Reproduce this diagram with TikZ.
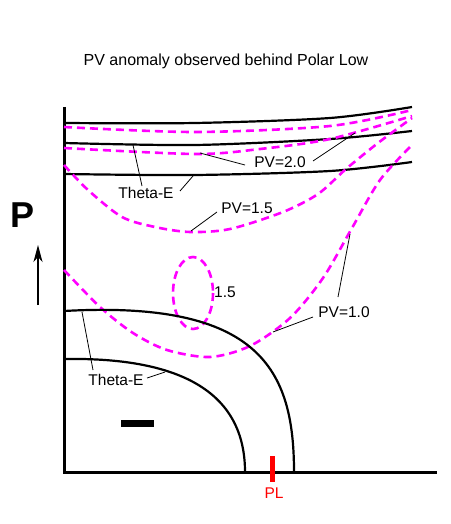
\documentclass[tikz,border=0pt]{standalone}
\usepackage{fontspec}
\setmainfont{Liberation Sans}
\usetikzlibrary{arrows.meta}
\definecolor{pvmag}{RGB}{255,0,255}
\definecolor{plred}{RGB}{255,0,0}
\tikzset{
  axisline/.style={line width=3pt, black},
  thetaline/.style={line width=2.2pt, black},
  pvline/.style={line width=2.6pt, pvmag, dash pattern=on 8pt off 5pt},
  leader/.style={line width=0.8pt, black},
  lbl/.style={font=\fontsize{15.5}{18}\selectfont, inner sep=0pt},
}
\begin{document}
\begin{tikzpicture}[x=1pt,y=-1pt]
\useasboundingbox (0,0) rectangle (450,524);
% title
\node[font=\fontsize{16}{19}\selectfont, inner sep=0pt] (title) at (226,61) {PV anomaly observed behind Polar Low};
% P and arrow
\node[font=\fontsize{36}{40}\selectfont\bfseries, inner sep=0pt] (plabel) at (23,215) {P};
\coordinate (arrbot) at (38,305);
\coordinate (arrtop) at (38,245);
\draw[line width=1.1pt, -{Stealth[length=17pt,width=9pt,inset=5pt]}] (arrbot) -- (arrtop);
% axes
\coordinate (orig) at (64,472);
\coordinate (ytop) at (64,107);
\coordinate (xend) at (437,472);
\draw[axisline] (ytop) -- (orig) -- (xend);
% upper theta-E lines
\draw[thetaline] plot[smooth] coordinates {(64,123) (195,123) (330,118) (412,107)};
\draw[thetaline] plot[smooth] coordinates {(64,143) (195,145) (330,139) (412,131)};
\draw[thetaline] plot[smooth] coordinates {(64,174) (195,175) (330,171) (412,162)};
% PV lines
\draw[pvline] plot[smooth] coordinates {(64,127) (195,132) (330,126) (412,110)};
\draw[pvline] plot[smooth] coordinates {(64,148) (195,154) (260,149) (330,139) (412,116)};
\draw[pvline] plot[smooth] coordinates {(64,165) (88,190) (122,217) (155,227) (190,232) (230,229) (283,212) (318,194) (346,169) (378,143) (412,118)};
\draw[pvline] plot[smooth] coordinates {(64,270) (100,307) (133,333) (167,350) (210,357) (250,346) (290,318) (323,278) (352,228) (380,180) (412,145)};
\draw[pvline] (193,293) ellipse[x radius=20, y radius=36];
% lower theta-E arcs
\draw[thetaline] (64,311) .. controls (260,300) and (294,370) .. (294,472);
\draw[thetaline] (64,359) .. controls (185,357) and (245,395) .. (245,472);
% black bar
\fill[black] (121,420) rectangle (154,427);
% PL tick
\coordinate (pltop) at (272,456);
\coordinate (plbot) at (272,482);
\draw[line width=5pt, plred] (pltop) -- (plbot);
\node[lbl, text=plred] (pl) at (274,493) {PL};
% labels
\node[lbl] (pv20) at (280,162) {PV=2.0};
\node[lbl] (th1) at (146,193) {Theta-E};
\node[lbl] (pv15) at (247,208) {PV=1.5};
\node[lbl] (pv10) at (344,312) {PV=1.0};
\node[lbl] (th2) at (116,380) {Theta-E};
\node[lbl] (one5) at (225,292) {1.5};
% leader lines
\coordinate (a1) at (245,165); \coordinate (a2) at (200,153);
\coordinate (b1) at (313,161); \coordinate (b2) at (355,133);
\coordinate (c1) at (142,186); \coordinate (c2) at (133,145);
\coordinate (d1) at (180,191); \coordinate (d2) at (193,176);
\coordinate (e1) at (217,212); \coordinate (e2) at (191,231);
\coordinate (f1) at (338,297); \coordinate (f2) at (350,234);
\coordinate (g1) at (313,317); \coordinate (g2) at (273,332);
\coordinate (h1) at (93,370); \coordinate (h2) at (82,312);
\coordinate (i1) at (147,378); \coordinate (i2) at (165,372);
\draw[leader] (a1) -- (a2);
\draw[leader] (b1) -- (b2);
\draw[leader] (c1) -- (c2);
\draw[leader] (d1) -- (d2);
\draw[leader] (e1) -- (e2);
\draw[leader] (f1) -- (f2);
\draw[leader] (g1) -- (g2);
\draw[leader] (h1) -- (h2);
\draw[leader] (i1) -- (i2);
\end{tikzpicture}
\end{document}
